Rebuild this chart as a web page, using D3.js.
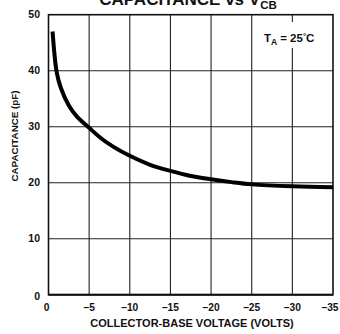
<!DOCTYPE html>
<html><head><meta charset="utf-8">
<script src="https://cdn.jsdelivr.net/npm/d3@7"></script>
<style>body{margin:0;background:#fff}svg{display:block}text{font-family:"Liberation Sans",Arial,sans-serif;font-weight:bold;fill:#111}</style>
</head><body><svg id="c" width="340" height="334"></svg>
<script>
const voltage = [0.5, 1, 1.5, 2.5, 3.5, 5, 6.5, 8, 10, 12.5, 15, 17.5, 20, 22.5, 25, 30, 35];
const capacitance = [47, 39.8, 37, 33.8, 31.8, 29.8, 27.9, 26.4, 24.8, 23.2, 22.1, 21.2, 20.6, 20.1, 19.7, 19.35, 19.2];
const xTicks = [0, 5, 10, 15, 20, 25, 30, 35];
const yTicks = [0, 10, 20, 30, 40, 50];

const svg = d3.select("#c");
const L = 48.5, R = 333, T = 14.7, B = 294.7;
const x = d3.scaleLinear().domain([0, 35]).range([L, R]);
const y = d3.scaleLinear().domain([0, 50]).range([B, T]);

// grid
const g = svg.append("g").attr("stroke", "#222").attr("stroke-width", 1.1);
xTicks.slice(1, -1).forEach(v => g.append("line").attr("x1", x(v)).attr("x2", x(v)).attr("y1", T).attr("y2", B));
yTicks.slice(1, -1).forEach(v => g.append("line").attr("y1", y(v)).attr("y2", y(v)).attr("x1", L).attr("x2", R));

// frame
svg.append("rect").attr("x", L).attr("y", T).attr("width", R - L).attr("height", B - T)
  .attr("fill", "none").attr("stroke", "#111").attr("stroke-width", 1.6);
svg.append("line").attr("x1", L).attr("x2", R).attr("y1", B).attr("y2", B).attr("stroke", "#111").attr("stroke-width", 2);

// annotation background
svg.append("rect").attr("x", 262).attr("y", 22).attr("width", 58).attr("height", 26).attr("fill", "#fff");
const ta = svg.append("text").attr("x", 264).attr("y", 42).attr("font-size", 11.5);
ta.append("tspan").text("T");
ta.append("tspan").attr("font-size", 8.5).attr("dy", 3).text("A");
ta.append("tspan").attr("dy", -3).attr("dx", 3).text("= 25");
ta.append("tspan").attr("font-size", 8).attr("dy", -3).text("°");
ta.append("tspan").attr("dy", 3).text("C");

// curve
const line = d3.line().x((d, i) => x(voltage[i])).y(d => y(d)).curve(d3.curveCatmullRom.alpha(0.5));
svg.append("path").datum(capacitance).attr("d", line).attr("fill", "none")
  .attr("stroke", "#000").attr("stroke-width", 4).attr("stroke-linecap", "butt");

// axes labels
const xa = svg.append("g").attr("font-size", 10.2);
xTicks.forEach(v => xa.append("text").attr("x", x(v) + (v ? (v === 35 ? -3 : 0) : -2)).attr("y", 311)
  .attr("text-anchor", "middle").text(v ? "–" + v : "0"));
const ya = svg.append("g").attr("font-size", 10.5);
yTicks.forEach(v => ya.append("text").attr("x", 40).attr("y", y(v) + 3.5 + (v ? 0 : 2))
  .attr("text-anchor", "end").text(v));

svg.append("text").attr("x", 192).attr("y", 327).attr("text-anchor", "middle").attr("font-size", 11)
  .text("COLLECTOR-BASE VOLTAGE (VOLTS)");
svg.append("text").attr("transform", "translate(18,136) rotate(-90)").attr("text-anchor", "middle")
  .attr("font-size", 9.8).text("CAPACITANCE (pF)");

// title (cut off at top)
const t = svg.append("text").attr("x", 188).attr("y", 5).attr("text-anchor", "middle").attr("font-size", 17);
t.append("tspan").text("CAPACITANCE vs V");
t.append("tspan").attr("font-size", 11.5).attr("dy", 4).text("CB");
</script></body></html>
